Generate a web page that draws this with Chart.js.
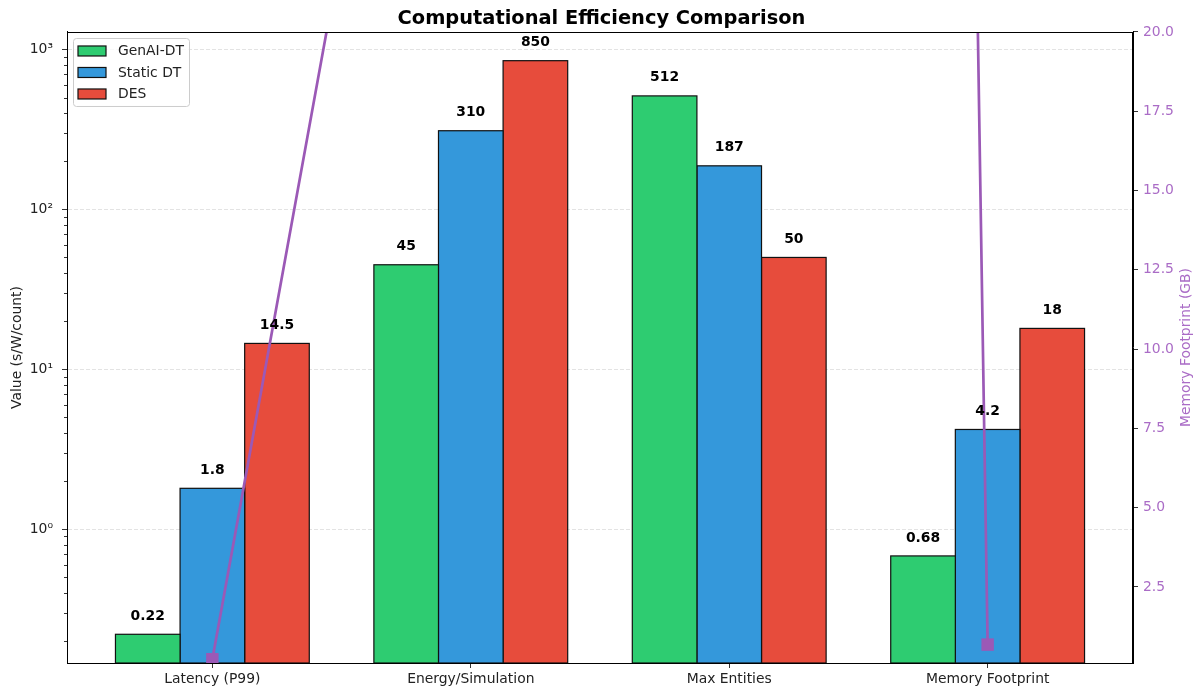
<!DOCTYPE html>
<html>
<head>
<meta charset="utf-8">
<script src="https://cdn.jsdelivr.net/npm/chart.js@4/dist/chart.umd.min.js"></script>
<style>
  html, body { margin: 0; padding: 0; background: #fff; }
  #wrap { width: 1200px; height: 693px; }
</style>
</head>
<body>
<div id="wrap"><canvas id="c" width="1200" height="693"></canvas></div>
<script>
// Categories and series
const categories = ['Latency (P99)', 'Energy/Simulation', 'Max Entities', 'Memory Footprint'];
const genaiDT  = [0.22, 45, 512, 0.68];
const staticDT = [1.8, 310, 187, 4.2];
const desVals  = [14.5, 850, 50, 18];
// Memory footprint trend on the secondary axis (GB)
const memoryLine = [0.22, 45, 512, 0.68];

// Axis ticks
const logMajorTicks = [1, 10, 100, 1000];
const rightTicks = [2.5, 5.0, 7.5, 10.0, 12.5, 15.0, 17.5, 20.0];

const FONT = 'DejaVu Sans';
const PURPLE = '#9b59b6';
const PURPLE_TEXT = '#aa6cc6';
const supers = {'0':'⁰','1':'¹','2':'²','3':'³','-':'⁻'};

const toPoints = arr => arr.map((v, i) => ({x: i, y: v}));

// Log-axis ticks: decades plus 2..9 minor steps inside the visible range
function logTicks(scale) {
  const out = [];
  const decades = [0.01, 0.1].concat(logMajorTicks);
  decades.forEach(d => {
    for (let k = 1; k <= 9; k++) {
      const v = +(d * k).toPrecision(6);
      if (v >= scale.min && v <= scale.max) out.push({value: v, major: k === 1});
    }
  });
  return out;
}

// Short tick marks for the minor log steps
const minorTickPlugin = {
  id: 'minorTicks',
  afterDraw(chart) {
    const s = chart.scales.y, ctx = chart.ctx;
    ctx.save();
    ctx.strokeStyle = '#000';
    ctx.lineWidth = 0.8;
    s.ticks.forEach(t => {
      if (t.major) return;
      const y = Math.round(s.getPixelForValue(t.value)) + 0.5;
      ctx.beginPath();
      ctx.moveTo(s.right - 3, y);
      ctx.lineTo(s.right, y);
      ctx.stroke();
    });
    ctx.restore();
  }
};

// Full frame around the plotting area and the right-hand axis title
const framePlugin = {
  id: 'frame',
  afterDraw(chart) {
    const a = chart.chartArea, ctx = chart.ctx;
    ctx.save();
    ctx.strokeStyle = '#000';
    ctx.lineWidth = 1;
    ctx.strokeRect(Math.round(a.left) + 0.5, Math.round(a.top) + 0.5,
                   Math.round(a.right - a.left) - 1, Math.round(a.bottom - a.top));
    // secondary axis title, reading bottom to top
    ctx.translate(chart.width - 14, (a.top + a.bottom) / 2);
    ctx.rotate(-Math.PI / 2);
    ctx.font = '13.9px "' + FONT + '"';
    ctx.fillStyle = PURPLE_TEXT;
    ctx.textAlign = 'center';
    ctx.textBaseline = 'middle';
    ctx.fillText('Memory Footprint (GB)', 0, 0);
    ctx.restore();
  }
};

// Black outlines centred on each bar edge, drawn right after its dataset
const barEdgePlugin = {
  id: 'barEdges',
  afterDatasetDraw(chart, args) {
    const ds = chart.data.datasets[args.index];
    if (ds.type === 'line') return;
    const ctx = chart.ctx;
    ctx.save();
    ctx.strokeStyle = '#111';
    ctx.lineWidth = 1.2;
    args.meta.data.forEach(bar => {
      const p = bar.getProps(['x', 'y', 'base', 'width'], true);
      ctx.strokeRect(p.x - p.width / 2, p.y, p.width, p.base - p.y);
    });
    ctx.restore();
  }
};

// Value labels above each bar
const barLabelPlugin = {
  id: 'barLabels',
  afterDatasetsDraw(chart) {
    const ctx = chart.ctx;
    ctx.save();
    ctx.font = 'bold 13.9px "' + FONT + '"';
    ctx.fillStyle = '#000';
    ctx.textAlign = 'center';
    ctx.textBaseline = 'middle';
    chart.data.datasets.forEach((ds, di) => {
      if (ds.type === 'line') return;
      const meta = chart.getDatasetMeta(di);
      meta.data.forEach((bar, i) => {
        ctx.fillText(String(ds.data[i].y), bar.x, bar.y - 18);
      });
    });
    ctx.restore();
  }
};

// Legend box in the upper-left corner of the plot
const legendPlugin = {
  id: 'boxLegend',
  afterDraw(chart) {
    const a = chart.chartArea, ctx = chart.ctx;
    const items = chart.data.datasets.filter(d => d.type !== 'line');
    const x0 = a.left + 6.5, y0 = a.top + 6.5, w = 116, h = 68, r = 3;
    ctx.save();
    ctx.beginPath();
    ctx.roundRect(x0, y0, w, h, r);
    ctx.fillStyle = 'rgba(255,255,255,0.8)';
    ctx.fill();
    ctx.strokeStyle = '#cccccc';
    ctx.lineWidth = 1;
    ctx.stroke();
    ctx.font = '13.9px "' + FONT + '"';
    ctx.textBaseline = 'middle';
    ctx.textAlign = 'left';
    items.forEach((d, i) => {
      const cy = a.top + 19 + i * 21.5;
      ctx.fillStyle = d.backgroundColor;
      ctx.fillRect(x0 + 4.5, cy - 5, 28, 10);
      ctx.strokeStyle = '#111';
      ctx.lineWidth = 1.2;
      ctx.strokeRect(x0 + 4.5, cy - 5, 28, 10);
      ctx.fillStyle = '#222';
      ctx.fillText(d.label, x0 + 44.5, cy + 0.5);
    });
    ctx.restore();
  }
};

const barCommon = {
  borderWidth: 0,
  categoryPercentage: 0.75,
  barPercentage: 1.0,
  yAxisID: 'y',
  order: 1
};

new Chart(document.getElementById('c'), {
  type: 'bar',
  data: {
    datasets: [
      Object.assign({label: 'GenAI-DT', data: toPoints(genaiDT), backgroundColor: '#2ecc71'}, barCommon),
      Object.assign({label: 'Static DT', data: toPoints(staticDT), backgroundColor: '#3498db'}, barCommon),
      Object.assign({label: 'DES', data: toPoints(desVals), backgroundColor: '#e74c3c'}, barCommon),
      {
        type: 'line',
        label: 'Memory Footprint',
        data: toPoints(memoryLine),
        yAxisID: 'y2',
        borderColor: PURPLE,
        backgroundColor: PURPLE,
        borderWidth: 2.7,
        pointStyle: 'rect',
        pointRadius: 8.8,
        pointBorderWidth: 0,
        pointBackgroundColor: PURPLE,
        tension: 0,
        fill: false,
        order: 0
      }
    ]
  },
  options: {
    responsive: false,
    animation: false,
    events: [],
    layout: { padding: { left: 9, right: 6, top: 0, bottom: 0 } },
    plugins: {
      legend: { display: false },
      tooltip: { enabled: false },
      title: {
        display: true,
        text: 'Computational Efficiency Comparison',
        color: '#000',
        font: { family: FONT, size: 19.4, weight: 'bold', lineHeight: 1.2 },
        padding: { top: 7, bottom: 1.7 }
      }
    },
    scales: {
      x: {
        type: 'linear',
        min: -0.5625,
        max: 3.5625,
        offset: false,
        afterBuildTicks: s => { s.ticks = categories.map((_, i) => ({value: i})); },
        afterFit: s => { s.height = 30; },
        ticks: {
          autoSkip: false,
          maxRotation: 0,
          padding: 3,
          color: '#222',
          font: { family: FONT, size: 13.9 },
          callback: v => categories[v] ?? ''
        },
        grid: { offset: false, drawOnChartArea: false, drawTicks: true, tickLength: 5, tickColor: '#000', tickWidth: 0.8 },
        border: { display: true, color: '#000', width: 1 }
      },
      y: {
        type: 'logarithmic',
        position: 'left',
        min: 0.1455,
        max: 1285,
        afterBuildTicks: s => { s.ticks = logTicks(s); },
        afterFit: s => { s.width = 58; },
        ticks: {
          autoSkip: false,
          padding: 9,
          color: '#222',
          font: { family: FONT, size: 13.9 },
          callback: function (v) {
            if (!logMajorTicks.includes(v)) return '';
            const e = String(Math.round(Math.log10(v)));
            return '10' + e.split('').map(c => supers[c]).join('');
          }
        },
        grid: {
          offset: false,
          drawOnChartArea: true,
          drawTicks: true,
          tickLength: 5,
          lineWidth: 1,
          color: ctx => (ctx.tick && ctx.tick.major) ? 'rgba(176,176,176,0.35)' : 'rgba(0,0,0,0)',
          tickColor: ctx => (ctx.tick && ctx.tick.major) ? '#000' : 'rgba(0,0,0,0)',
          tickWidth: 0.8
        },
        border: { display: true, color: '#000', width: 1, dash: [4, 2] },
        title: {
          display: true,
          text: 'Value (s/W/count)',
          color: '#222',
          font: { family: FONT, size: 13.9, lineHeight: 1.2 },
          padding: 0
        }
      },
      y2: {
        type: 'linear',
        position: 'right',
        min: 0.1,
        max: 20,
        afterBuildTicks: s => { s.ticks = rightTicks.map(v => ({value: v})); },
        afterFit: s => { s.width = 61; },
        ticks: {
          autoSkip: false,
          padding: 5,
          color: PURPLE_TEXT,
          font: { family: FONT, size: 13.9 },
          callback: v => Number(v).toFixed(1)
        },
        grid: { offset: false, drawOnChartArea: false, drawTicks: true, tickLength: 5, tickColor: '#000', tickWidth: 0.8 },
        border: { display: true, color: '#000', width: 1 }
      }
    }
  },
  plugins: [minorTickPlugin, barEdgePlugin, barLabelPlugin, framePlugin, legendPlugin]
});
</script>
</body>
</html>
